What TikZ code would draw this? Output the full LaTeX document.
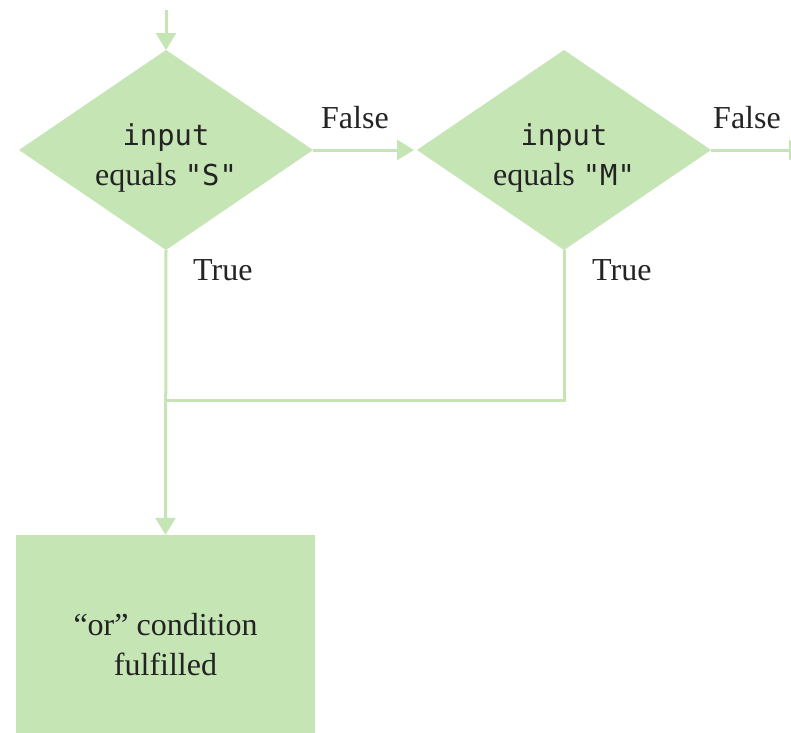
\documentclass[tikz,border=0pt]{standalone}
\usepackage{fontspec}
\setmainfont{Liberation Serif}
\setmonofont{DejaVu Sans Mono}[Scale=0.9]
\usetikzlibrary{shapes.geometric,arrows.meta}
\definecolor{flowgreen}{RGB}{197,229,181}
\definecolor{inkgray}{RGB}{35,35,35}

\begin{document}
\begin{tikzpicture}[x=1pt,y=-1pt,
  txt/.style={font=\fontsize{32}{40}\selectfont, text=inkgray},
  decision/.style={diamond, fill=flowgreen, minimum width=294pt, minimum height=200pt,
                   inner sep=0pt, outer sep=0pt},
  result/.style={rectangle, fill=flowgreen, minimum width=299pt, minimum height=220pt,
                 inner sep=0pt, align=center, txt},
  flow/.style={draw=flowgreen, line width=3pt},
  arr/.style={flow, -{Triangle[width=20pt,length=17pt]}},
  lbl/.style={txt, anchor=base west, inner sep=0pt}]
\useasboundingbox (0,0) rectangle (791,732);
\clip (0,0) rectangle (791,732);

% decisions
\node[decision] (s) at (166,150) {};
\node[txt, align=center] (stext) at (166,158) {\texttt{input}\\equals \texttt{"S"}};
\node[decision] (m) at (564,150) {};
\node[txt, align=center] (mtext) at (564,158) {\texttt{input}\\equals \texttt{"M"}};

% outcome
\node[result] (ok) at (165.5,645) {“or” condition\\fulfilled};

% connectors
\coordinate (entry) at (166,10);
\coordinate (exit) at (806,150);
\coordinate (join) at (166,400);
\draw[arr] (entry) -- (s.north);
\draw[arr, shorten >=3pt] (s.east) -- (m.west);
\draw[arr] (m.east) -- (exit);
\draw[arr] (s.south) -- (ok.north);
\draw[flow] (m.south) |- (join);

% branch labels
\node[lbl] (f1) at (321,128) {False};
\node[lbl] (t1) at (193,280) {True};
\node[lbl] (f2) at (713,128) {False};
\node[lbl] (t2) at (592,280) {True};
\end{tikzpicture}
\end{document}
